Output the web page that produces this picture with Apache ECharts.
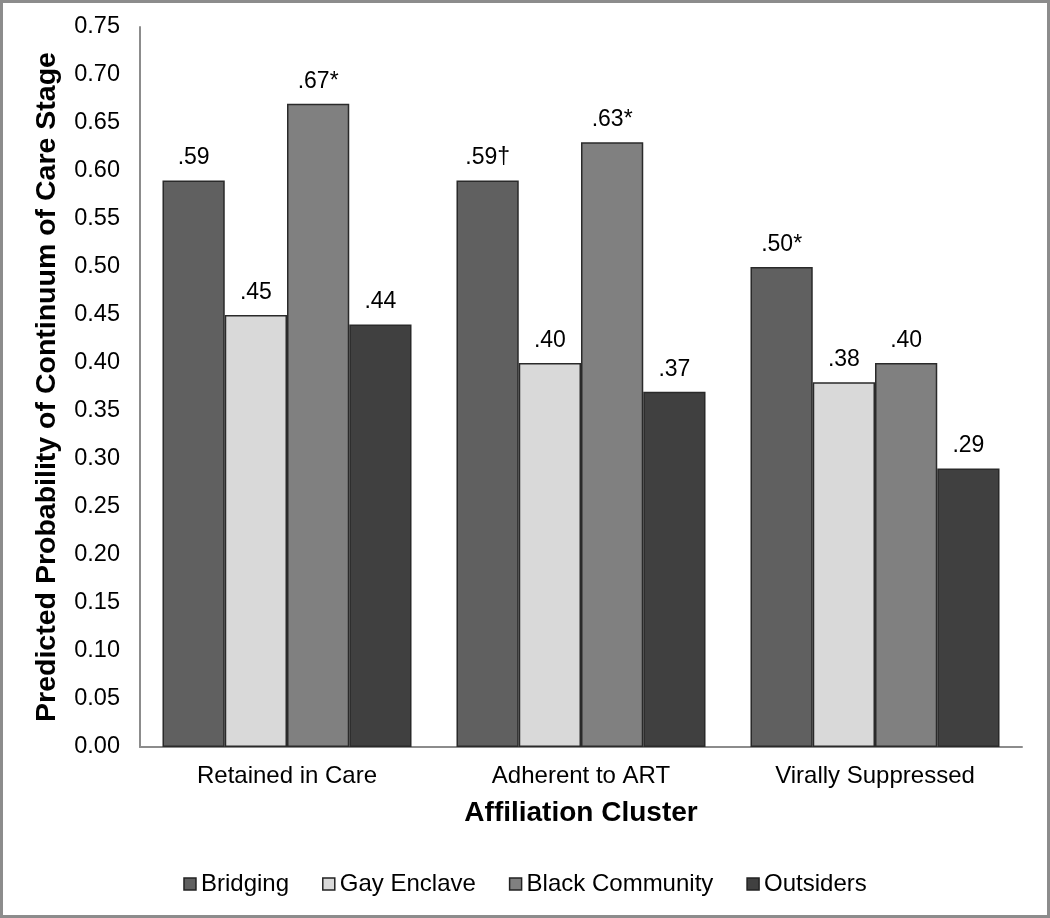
<!DOCTYPE html>
<html>
<head>
<meta charset="utf-8">
<script src="https://cdn.jsdelivr.net/npm/echarts@6/dist/echarts.min.js"></script>
<style>
html,body{margin:0;padding:0;background:#fff;}
#wrap{position:relative;width:1050px;height:918px;}
#frame{position:absolute;left:0;top:0;width:1050px;height:918px;box-sizing:border-box;border:3px solid #8c8c8c;pointer-events:none;z-index:5;}
#chart{position:absolute;left:0;top:0;width:1050px;height:918px;}
</style>
</head>
<body>
<div id="wrap"><div id="chart"></div><div id="frame"></div></div>
<script>
const categories = ["Retained in Care", "Adherent to ART", "Virally Suppressed"];
const seriesNames = ["Bridging", "Gay Enclave", "Black Community", "Outsiders"];
const bridging = [0.59, 0.59, 0.50];
const gayEnclave = [0.45, 0.40, 0.38];
const blackCommunity = [0.67, 0.63, 0.40];
const outsiders = [0.44, 0.37, 0.29];
const bridgingLabels = [".59", ".59\u2020", ".50*"];
const gayEnclaveLabels = [".45", ".40", ".38"];
const blackCommunityLabels = [".67*", ".63*", ".40"];
const outsidersLabels = [".44", ".37", ".29"];
const colors = ["#606060", "#d9d9d9", "#808080", "#404040"];

const font = "Liberation Sans, Arial, sans-serif";
const allValues = [bridging, gayEnclave, blackCommunity, outsiders];
const allLabels = [bridgingLabels, gayEnclaveLabels, blackCommunityLabels, outsidersLabels];

const chart = echarts.init(document.getElementById('chart'));
chart.setOption({
  animation: false,
  backgroundColor: '#fff',
  textStyle: { fontFamily: font },
  grid: { left: 140, right: 28, top: 27, bottom: 171, containLabel: false },
  legend: {
    top: 867,
    left: 'center',
    icon: 'rect',
    itemWidth: 12,
    itemHeight: 12,
    itemGap: 33,
    textStyle: { fontSize: 24, color: '#000', fontFamily: font },
    data: seriesNames.map((n, i) => ({ name: n, itemStyle: { color: colors[i], borderColor: '#222', borderWidth: 1.5 } }))
  },
  xAxis: {
    type: 'category',
    data: categories,
    name: 'Affiliation Cluster',
    nameLocation: 'middle',
    nameGap: 52,
    nameTextStyle: { fontSize: 28, fontWeight: 'bold', color: '#000', fontFamily: font },
    axisLine: { lineStyle: { color: '#8c8c8c', width: 2 } },
    axisTick: { show: false },
    axisLabel: { fontSize: 24, color: '#000', margin: 17, fontFamily: font }
  },
  yAxis: {
    type: 'value',
    min: 0,
    max: 0.75,
    interval: 0.05,
    name: 'Predicted Probability of Continuum of Care Stage',
    nameLocation: 'middle',
    nameGap: 78,
    nameTextStyle: { fontSize: 28.5, fontWeight: 'bold', color: '#000', fontFamily: font },
    axisLine: { show: true, lineStyle: { color: '#8c8c8c', width: 2 } },
    axisTick: { show: false },
    splitLine: { show: false },
    axisLabel: { fontSize: 23.5, color: '#000', margin: 20, fontFamily: font, formatter: v => v.toFixed(2) }
  },
  series: seriesNames.map((n, i) => ({
    name: n,
    type: 'bar',
    barGap: '0%',
    barCategoryGap: '15.3%',
    data: allValues[i],
    itemStyle: { color: colors[i], borderColor: '#2a2a2a', borderWidth: 1.5 },
    label: {
      show: true,
      position: 'top',
      distance: 11,
      fontSize: 23,
      color: '#000',
      fontFamily: font,
      formatter: p => allLabels[i][p.dataIndex]
    }
  }))
});
</script>
</body>
</html>
